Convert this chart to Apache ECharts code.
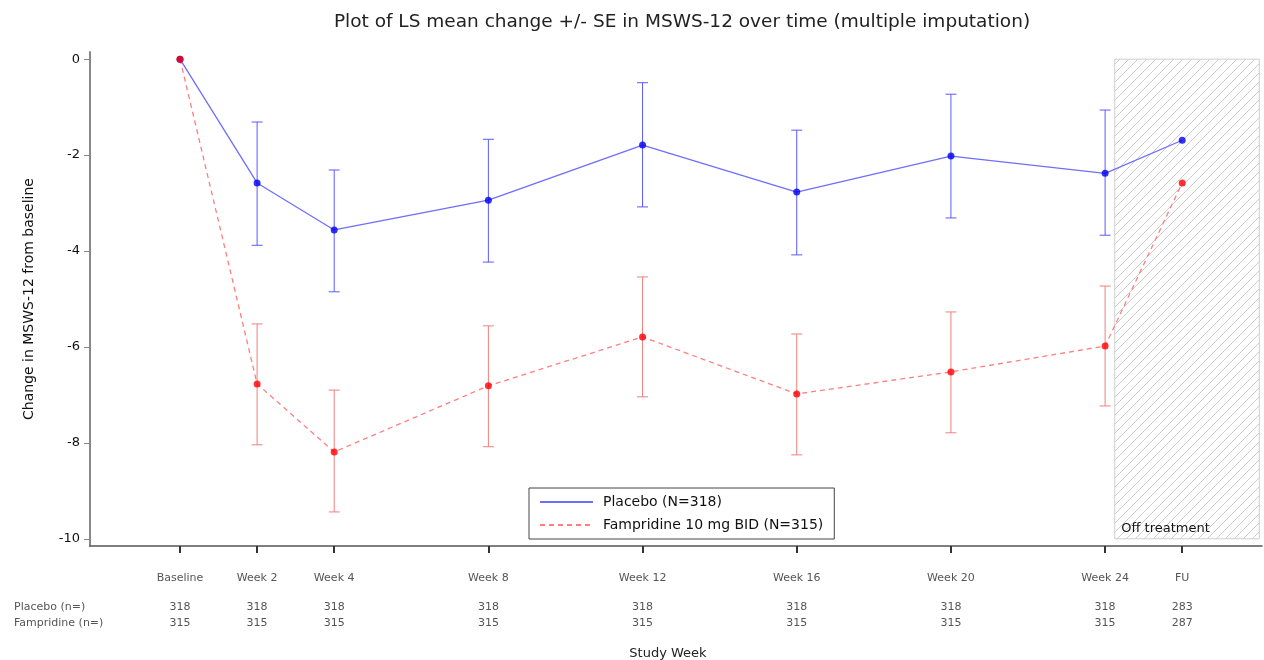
<!DOCTYPE html>
<html>
<head>
<meta charset="utf-8">
<script src="https://cdn.jsdelivr.net/npm/echarts@6/dist/echarts.min.js"></script>
<style>
html,body{margin:0;padding:0;background:#fff;}
#chart{width:1264px;height:660px;}
</style>
</head>
<body>
<div id="chart"></div>
<script>
// ---- data ----
var weeks = [0, 2, 4, 8, 12, 16, 20, 24, 26];
var weekLabels = ['Baseline', 'Week 2', 'Week 4', 'Week 8', 'Week 12', 'Week 16', 'Week 20', 'Week 24', 'FU'];
var placeboMean  = [0, -2.58, -3.56, -2.94, -1.79, -2.77, -2.02, -2.38, -1.69];
var placeboUpper = [null, -1.31, -2.31, -1.67, -0.49, -1.48, -0.73, -1.06, null];
var placeboLower = [null, -3.88, -4.85, -4.23, -3.08, -4.08, -3.31, -3.67, null];
var fampMean  = [0, -6.77, -8.19, -6.81, -5.79, -6.98, -6.52, -5.98, -2.58];
var fampUpper = [null, -5.52, -6.90, -5.56, -4.54, -5.73, -5.27, -4.73, null];
var fampLower = [null, -8.04, -9.44, -8.08, -7.04, -8.25, -7.79, -7.23, null];
var placeboN = [318, 318, 318, 318, 318, 318, 318, 318, 283];
var fampN    = [315, 315, 315, 315, 315, 315, 315, 315, 287];
var yTicks = [0, -2, -4, -6, -8, -10];
var offTreatment = [24.25, 28];
var offLabel = 'Off treatment';

var FONT = 'DejaVu Sans';

function pairs(xs, ys) { return xs.map(function (x, i) { return [x, ys[i]]; }); }
function bars(xs, lo, hi) {
  var out = [];
  xs.forEach(function (x, i) { if (lo[i] != null) out.push([x, lo[i], hi[i]]); });
  return out;
}

// hatch pattern
var pc = document.createElement('canvas');
pc.width = 9; pc.height = 9;
var g = pc.getContext('2d');
g.strokeStyle = '#cccccc';
g.lineWidth = 1;
g.beginPath();
g.moveTo(-1, 10); g.lineTo(10, -1);
g.moveTo(-1, 1); g.lineTo(1, -1);
g.moveTo(8, 10); g.lineTo(10, 8);
g.stroke();

function errorBarSeries(name, color, data) {
  return {
    type: 'custom',
    name: name + '_err',
    data: data,
    z: 3,
    silent: true,
    renderItem: function (params, api) {
      var x = api.value(0);
      var lo = api.coord([x, api.value(1)]);
      var hi = api.coord([x, api.value(2)]);
      var hw = 5.5;
      var st = { stroke: color, lineWidth: 1, fill: null };
      return {
        type: 'group',
        children: [
          { type: 'line', shape: { x1: lo[0], y1: lo[1], x2: hi[0], y2: hi[1] }, style: st },
          { type: 'line', shape: { x1: lo[0] - hw, y1: lo[1], x2: lo[0] + hw, y2: lo[1] }, style: st },
          { type: 'line', shape: { x1: hi[0] - hw, y1: hi[1], x2: hi[0] + hw, y2: hi[1] }, style: st }
        ]
      };
    }
  };
}

var xMin = -2.335, xMax = 28.07;

var chart = echarts.init(document.getElementById('chart'));
chart.setOption({
  animation: false,
  backgroundColor: '#fff',
  textStyle: { fontFamily: FONT },
  title: [
    { text: 'Plot of LS mean change +/- SE in MSWS-12 over time (multiple imputation)',
      left: 677, top: 8, textAlign: 'center',
      textStyle: { fontFamily: FONT, fontSize: 18.5, fontWeight: 'normal', color: '#222' } },
    { text: 'Placebo (n=)', left: 9, top: 597,
      textStyle: { fontFamily: FONT, fontSize: 11, fontWeight: 'normal', color: '#555' } },
    { text: 'Fampridine (n=)', left: 9, top: 613,
      textStyle: { fontFamily: FONT, fontSize: 11, fontWeight: 'normal', color: '#555' } }
  ],
  legend: {
    orient: 'vertical',
    left: 529, top: 488,
    padding: [7, 11, 7, 10],
    itemWidth: 53, itemHeight: 14, itemGap: 9,
    borderColor: '#444', borderWidth: 1,
    itemStyle: { opacity: 0 },
    textStyle: { fontFamily: FONT, fontSize: 14, color: '#111', padding: [0, 0, 0, 5] },
    data: ['Placebo (N=318)', 'Fampridine 10 mg BID (N=315)']
  },
  grid: { left: 90, right: 2, top: 52, bottom: 114, outerBoundsMode: 'none', containLabel: false },
  xAxis: [
    {
      type: 'value', min: xMin, max: xMax,
      name: 'Study Week', nameLocation: 'middle', nameGap: 101,
      nameTextStyle: { fontFamily: FONT, fontSize: 13, color: '#222', padding: [0, 16, 0, 0] },
      axisLine: { onZero: false, lineStyle: { color: '#555', width: 1.5 } },
      axisTick: { customValues: weeks, length: 7, lineStyle: { color: '#333', width: 2 } },
      axisLabel: {
        customValues: weeks, margin: 27, fontSize: 11, color: '#555', fontFamily: FONT,
        formatter: function (v) { return weekLabels[weeks.indexOf(v)]; }
      },
      splitLine: { show: false }
    },
    {
      type: 'value', min: xMin, max: xMax, position: 'bottom', gridIndex: 0,
      axisLine: { show: false, onZero: false }, axisTick: { show: false }, splitLine: { show: false },
      axisLabel: {
        customValues: weeks, margin: 56, fontSize: 11, color: '#555', fontFamily: FONT,
        formatter: function (v) { return String(placeboN[weeks.indexOf(v)]); }
      }
    },
    {
      type: 'value', min: xMin, max: xMax, position: 'bottom', gridIndex: 0,
      axisLine: { show: false, onZero: false }, axisTick: { show: false }, splitLine: { show: false },
      axisLabel: {
        customValues: weeks, margin: 72, fontSize: 11, color: '#555', fontFamily: FONT,
        formatter: function (v) { return String(fampN[weeks.indexOf(v)]); }
      }
    }
  ],
  yAxis: {
    type: 'value', min: -10.15, max: 0.15,
    name: 'Change in MSWS-12 from baseline', nameLocation: 'middle', nameGap: 54,
    nameTextStyle: { fontFamily: FONT, fontSize: 14, color: '#111' },
    axisLine: { show: true, onZero: false, lineStyle: { color: '#888', width: 2 } },
    axisTick: { show: true, customValues: yTicks, length: 6, lineStyle: { color: '#888', width: 1 } },
    axisLabel: { customValues: yTicks, margin: 10, fontSize: 13, color: '#111', fontFamily: FONT },
    splitLine: { show: false }
  },
  series: [
    {
      type: 'line', name: '_area', data: [[offTreatment[0], 0]], silent: true,
      symbol: 'none', lineStyle: { opacity: 0 },
      markArea: {
        silent: true,
        itemStyle: { color: { image: pc, repeat: 'repeat' }, borderColor: '#cfcfcf', borderWidth: 1 },
        label: { show: true, position: 'insideBottomLeft', distance: 4, offset: [3, 0], formatter: '{b}',
                 color: '#111', fontSize: 13, fontFamily: FONT },
        data: [[{ name: offLabel, xAxis: offTreatment[0], yAxis: 0 }, { xAxis: offTreatment[1], yAxis: -10 }]]
      }
    },
    errorBarSeries('Placebo', '#5a5aff', bars(weeks, placeboLower, placeboUpper)),
    errorBarSeries('Fampridine', '#f07f7f', bars(weeks, fampLower, fampUpper)),
    {
      type: 'line', name: 'Placebo (N=318)', data: pairs(weeks, placeboMean), z: 4,
      symbol: 'none', lineStyle: { color: '#6e6eff', width: 1.3 }, itemStyle: { color: '#6e6eff' }
    },
    {
      type: 'line', name: 'Fampridine 10 mg BID (N=315)', data: pairs(weeks, fampMean), z: 4,
      symbol: 'none', lineStyle: { color: '#ff7f7f', width: 1.3, type: [5, 4] }, itemStyle: { color: '#ff7f7f' }
    },
    {
      type: 'scatter', name: 'placebo_pts', data: pairs(weeks, placeboMean), z: 5,
      symbol: 'circle', symbolSize: 7, itemStyle: { color: '#0000ee' }
    },
    {
      type: 'scatter', name: 'famp_pts', data: pairs(weeks, fampMean), z: 6,
      symbol: 'circle', symbolSize: 7, itemStyle: { color: '#ff0000' }
    }
  ]
});
</script>
</body>
</html>
